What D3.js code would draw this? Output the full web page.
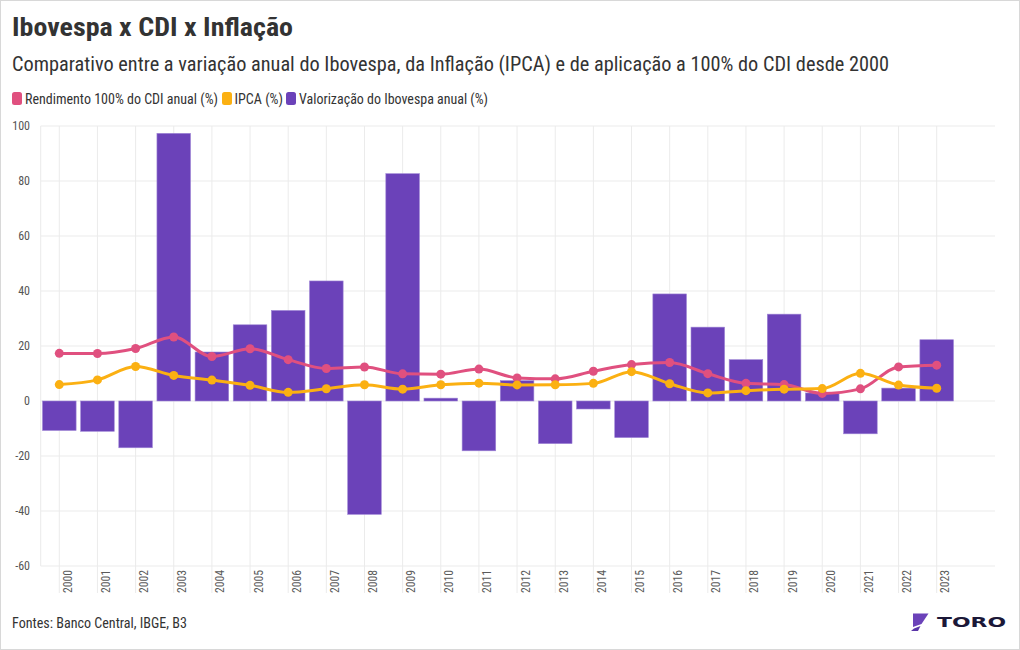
<!DOCTYPE html>
<html><head><meta charset="utf-8">
<script src="https://cdn.jsdelivr.net/npm/d3@7"></script>
<style>
html,body{margin:0;padding:0;background:#fff;}
svg{display:block;}
text{font-family:"Roboto Condensed","Liberation Sans Narrow",Roboto,sans-serif;}
</style></head>
<body>
<script>
const years = ["2000","2001","2002","2003","2004","2005","2006","2007","2008","2009","2010","2011","2012","2013","2014","2015","2016","2017","2018","2019","2020","2021","2022","2023"];
const ibovespa = [-10.72,-11.02,-17.01,97.33,17.81,27.71,32.93,43.65,-41.22,82.66,1.04,-18.11,7.40,-15.50,-2.91,-13.31,38.93,26.86,15.03,31.58,2.92,-11.93,4.69,22.28];
const cdi = [17.32,17.29,19.11,23.29,16.17,19.00,15.03,11.82,12.38,9.88,9.75,11.60,8.40,8.06,10.81,13.24,14.00,9.93,6.42,5.96,2.76,4.42,12.39,13.04];
const ipca = [5.97,7.67,12.53,9.30,7.60,5.69,3.14,4.46,5.90,4.31,5.91,6.50,5.84,5.91,6.41,10.67,6.29,2.95,3.75,4.31,4.52,10.06,5.79,4.62];
const yTicks = [-60,-40,-20,0,20,40,60,80,100];
const seriesNames = ["Rendimento 100% do CDI anual (%)","IPCA (%)","Valorização do Ibovespa anual (%)"];

const W=1020,H=650;
const cPink="#e0507f", cOrange="#fbb012", cPurple="#6b42b9";
const svg=d3.select("body").append("svg").attr("width",W).attr("height",H);
svg.append("rect").attr("x",0.5).attr("y",0.5).attr("width",W-1).attr("height",H-1).attr("fill","#fff").attr("stroke","#d8d8d8");

const plotL=40.7, plotR=995;
const x=d3.scalePoint().domain(years).range([59.3,936.7]);
const y=d3.scaleLinear().domain([-60,100]).range([566,126]);
const bw=33.6;

// grid
const g=svg.append("g");
g.selectAll("line.h").data(yTicks).join("line")
 .attr("x1",plotL).attr("x2",plotR).attr("y1",d=>y(d)).attr("y2",d=>y(d))
 .attr("stroke","#ebebeb").attr("stroke-width",1);
g.append("line").attr("x1",plotL).attr("x2",plotL).attr("y1",y(100)).attr("y2",y(-60)).attr("stroke","#ebebeb");
g.selectAll("line.v").data(years).join("line")
 .attr("x1",d=>x(d)).attr("x2",d=>x(d)).attr("y1",y(100)).attr("y2",593)
 .attr("stroke","#ebebeb").attr("stroke-width",1);

// y labels
svg.selectAll("text.yl").data(yTicks).join("text")
 .attr("x",30).attr("y",d=>y(d)).attr("dy","0.35em").attr("text-anchor","end")
 .attr("font-size",12).attr("fill","#555").text(d=>d);

// x labels
svg.selectAll("text.xl").data(years).join("text")
 .attr("transform",d=>`translate(${x(d)+12.5},570) rotate(-90)`)
 .attr("text-anchor","end").attr("font-size",12).attr("fill","#5a5a5a")
 .attr("textLength",23).attr("lengthAdjust","spacingAndGlyphs").text(d=>d);

// bars
svg.append("g").selectAll("rect").data(years).join("rect")
 .attr("x",d=>x(d)-bw/2).attr("width",bw)
 .attr("y",(d,i)=>y(Math.max(0,ibovespa[i])))
 .attr("height",(d,i)=>Math.abs(y(ibovespa[i])-y(0)))
 .attr("fill",cPurple).attr("stroke","#9f86d6").attr("stroke-width",0.6);

// lines
function drawLine(vals,color){
  const line=d3.line().x((d,i)=>x(years[i])).y(d=>y(d)).curve(d3.curveMonotoneX);
  svg.append("path").attr("d",line(vals)).attr("fill","none").attr("stroke",color).attr("stroke-width",3);
  svg.append("g").selectAll("circle").data(vals).join("circle")
   .attr("cx",(d,i)=>x(years[i])).attr("cy",d=>y(d)).attr("r",4.5).attr("fill",color);
}
drawLine(cdi,cPink);
drawLine(ipca,cOrange);

// title
svg.append("text").attr("x",12).attr("y",36).attr("font-size",26).attr("font-weight",700).attr("fill","#333")
 .attr("textLength",281).attr("lengthAdjust","spacingAndGlyphs").text("Ibovespa x CDI x Inflação");
svg.append("text").attr("x",12).attr("y",71).attr("font-size",19.5).attr("fill","#333")
 .attr("textLength",877).attr("lengthAdjust","spacingAndGlyphs")
 .text("Comparativo entre a variação anual do Ibovespa, da Inflação (IPCA) e de aplicação a 100% do CDI desde 2000");

// legend
const leg=[{c:cPink,sx:12,tx:25,tw:193},{c:cOrange,sx:222,tx:234.5,tw:48.5},{c:cPurple,sx:286,tx:299,tw:189}];
leg.forEach((l,i)=>{
  svg.append("rect").attr("x",l.sx).attr("y",92).attr("width",10).attr("height",13).attr("rx",2.5).attr("fill",l.c);
  svg.append("text").attr("x",l.tx).attr("y",104.3).attr("font-size",14).attr("fill","#333")
   .attr("textLength",l.tw).attr("lengthAdjust","spacingAndGlyphs").text(seriesNames[i]);
});

// footer
svg.append("text").attr("x",12).attr("y",628).attr("font-size",15).attr("fill","#333")
 .attr("textLength",175).attr("lengthAdjust","spacingAndGlyphs").text("Fontes: Banco Central, IBGE, B3");

// logo
svg.append("path").attr("d","M913,613.5 L928.5,613.5 L921.5,624 L913,627 Z").attr("fill","#6b42b9");
svg.append("path").attr("d","M911,631 L914,628.5 L920.5,626 L918,631 Z").attr("fill","#5a35a8");
svg.append("text").attr("x",937).attr("y",627).attr("font-size",14).attr("font-weight",900)
 .attr("fill","#1b1838").style("font-family","'DejaVu Sans',sans-serif")
 .attr("textLength",69).attr("lengthAdjust","spacingAndGlyphs").text("TORO");
</script>
</body></html>
